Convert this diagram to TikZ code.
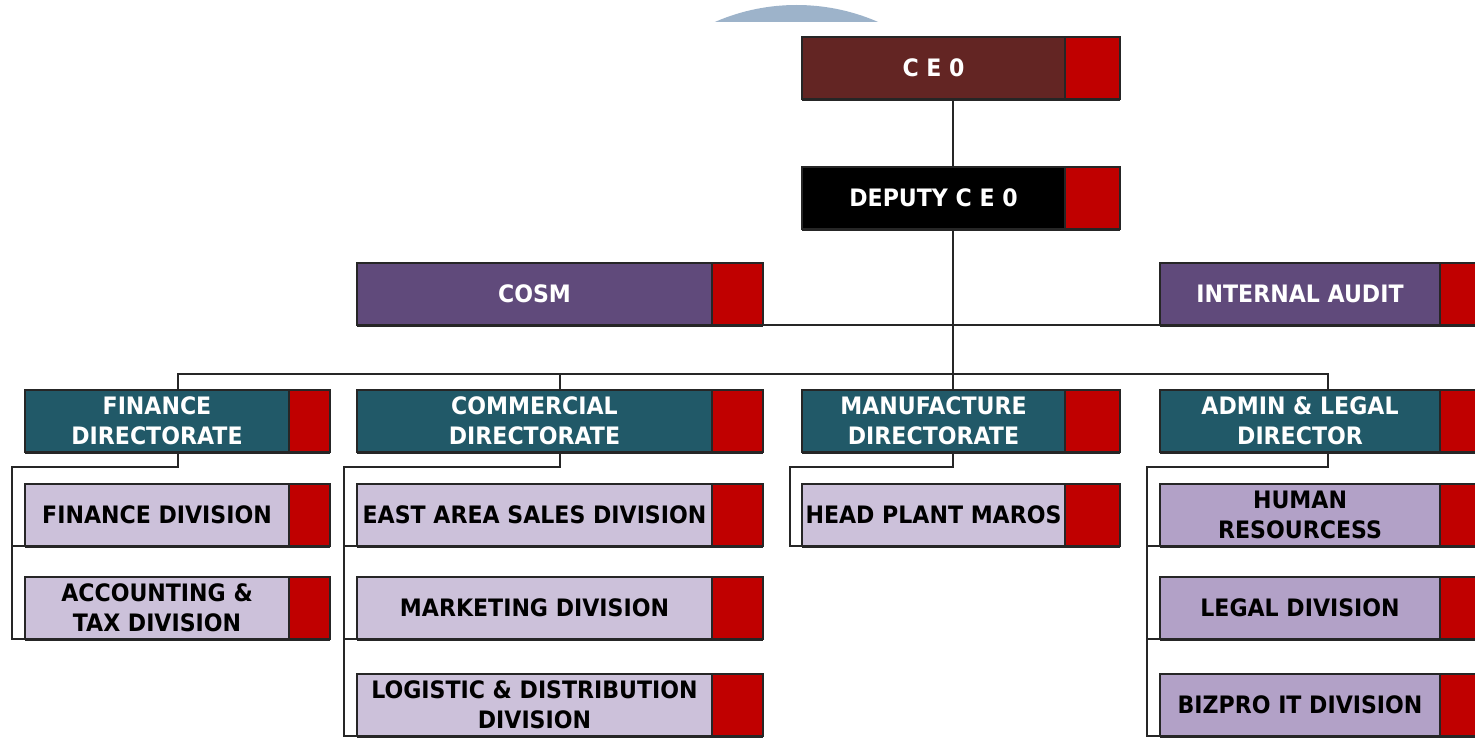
\documentclass[tikz,border=0pt]{standalone}
\usepackage{fontspec}
\setsansfont{DejaVu Sans}[FakeStretch=0.92]
\usetikzlibrary{positioning,calc}

\definecolor{ceobrown}{HTML}{632523}
\definecolor{staffpurple}{HTML}{604A7B}
\definecolor{dirteal}{HTML}{215968}
\definecolor{divlilac}{HTML}{CCC1DA}
\definecolor{admlilac}{HTML}{B2A1C7}
\definecolor{flagred}{HTML}{C00000}
\definecolor{arcblue}{HTML}{9DB3CA}

\tikzset{
	unit/.style={draw=black!85, line width=1pt, inner sep=0pt, outer sep=0pt,
		minimum height=31pt, anchor=north west, align=center,
		font=\sffamily\bfseries\fontsize{12}{15}\selectfont},
	flag/.style={draw=black!85, line width=1pt, fill=flagred, inner sep=0pt,
		outer sep=0pt, minimum height=31pt, minimum width=#1},
	link/.style={draw=black!85, line width=1pt},
	dark/.style={fill=#1, text=white},
	light/.style={fill=#1, text=black}
}

\begin{document}
\begin{tikzpicture}[x=0.5pt, y=-0.5pt]
	\clip (0,0) rectangle (1475,738);
	\fill[white] (0,0) rectangle (1475,738);
	\begin{scope}
		\clip (0,0) rectangle (1475,22);
		\fill[arcblue] (796.5,209) circle (204);
	\end{scope}

	% top
	\node[unit, dark=ceobrown, minimum width=131.5pt] (ceo) at (802,37) {C E 0};
	\node[flag=27.5pt, right=0pt of ceo] (ceo-r) {};
	\node[unit, dark=black, minimum width=131.5pt] (dep) at (802,167) {DEPUTY C E 0};
	\node[flag=27.5pt, right=0pt of dep] (dep-r) {};
	\node[unit, dark=staffpurple, minimum width=177.5pt] (cosm) at (357,263) {COSM};
	\node[flag=25.5pt, right=0pt of cosm] (cosm-r) {};
	\node[unit, dark=staffpurple, minimum width=140pt] (aud) at (1160,263) {INTERNAL AUDIT};
	\node[flag=28pt, right=0pt of aud] (aud-r) {};

	% directorates
	\node[unit, dark=dirteal, minimum width=132pt] (fin) at (25,390) {FINANCE\\DIRECTORATE};
	\node[flag=20.5pt, right=0pt of fin] (fin-r) {};
	\node[unit, dark=dirteal, minimum width=177.5pt] (com) at (357,390) {COMMERCIAL\\DIRECTORATE};
	\node[flag=25.5pt, right=0pt of com] (com-r) {};
	\node[unit, dark=dirteal, minimum width=131.5pt] (man) at (802,390) {MANUFACTURE\\DIRECTORATE};
	\node[flag=27.5pt, right=0pt of man] (man-r) {};
	\node[unit, dark=dirteal, minimum width=140pt] (adm) at (1160,390) {ADMIN \& LEGAL\\DIRECTOR};
	\node[flag=28pt, right=0pt of adm] (adm-r) {};

	% divisions
	\node[unit, light=divlilac, minimum width=132pt] (fdiv1) at (25,484) {FINANCE DIVISION};
	\node[flag=20.5pt, right=0pt of fdiv1] (fdiv1-r) {};
	\node[unit, light=divlilac, minimum width=132pt] (fdiv2) at (25,577) {ACCOUNTING \&\\TAX DIVISION};
	\node[flag=20.5pt, right=0pt of fdiv2] (fdiv2-r) {};

	\node[unit, light=divlilac, minimum width=177.5pt] (cdiv1) at (357,484) {EAST AREA SALES DIVISION};
	\node[flag=25.5pt, right=0pt of cdiv1] (cdiv1-r) {};
	\node[unit, light=divlilac, minimum width=177.5pt] (cdiv2) at (357,577) {MARKETING DIVISION};
	\node[flag=25.5pt, right=0pt of cdiv2] (cdiv2-r) {};
	\node[unit, light=divlilac, minimum width=177.5pt] (cdiv3) at (357,674) {LOGISTIC \& DISTRIBUTION\\DIVISION};
	\node[flag=25.5pt, right=0pt of cdiv3] (cdiv3-r) {};

	\node[unit, light=divlilac, minimum width=131.5pt] (mdiv1) at (802,484) {HEAD PLANT MAROS};
	\node[flag=27.5pt, right=0pt of mdiv1] (mdiv1-r) {};

	\node[unit, light=admlilac, minimum width=140pt] (adiv1) at (1160,484) {HUMAN\\RESOURCESS};
	\node[flag=28pt, right=0pt of adiv1] (adiv1-r) {};
	\node[unit, light=admlilac, minimum width=140pt] (adiv2) at (1160,577) {LEGAL DIVISION};
	\node[flag=28pt, right=0pt of adiv2] (adiv2-r) {};
	\node[unit, light=admlilac, minimum width=140pt] (adiv3) at (1160,674) {BIZPRO IT DIVISION};
	\node[flag=28pt, right=0pt of adiv3] (adiv3-r) {};

	% heavy bottom edges
	\foreach \n in {ceo,dep,cosm,aud,fin,com,man,adm,fdiv1,fdiv2,cdiv1,cdiv2,cdiv3,mdiv1,adiv1,adiv2,adiv3}
	\draw[line width=1.5pt, black!85] ([yshift=-0.4pt]\n.south west) -- ([yshift=-0.4pt]\n-r.south east);

	% lines
	\coordinate (spine) at (953,0);
	\coordinate (fin-c) at ($(fin.south west)!.5!(fin-r.south east)$);
	\coordinate (com-c) at ($(com.south west)!.5!(com-r.south east)$);
	\coordinate (adm-c) at ($(adm.south west)!.5!(adm-r.south east)$);

	\draw[link] (spine |- ceo.south) -- (spine |- dep.north);
	\draw[link] (spine |- dep.south) -- (spine |- man.north);
	\draw[link] (cosm-r.south east) -- (aud.south west);
	\draw[link] (fin-c |- fin.north) -- ++(0,-16) -| (adm-c |- adm.north);
	\draw[link] (com-c |- com.north) -- ++(0,-16);

	\draw[link] (fin-c) -- ++(0,15) -| ([xshift=-6.5pt]fdiv2.south west) -- (fdiv2.south west);
	\draw[link] ([xshift=-6.5pt]fdiv1.south west) -- (fdiv1.south west);

	\draw[link] (com-c) -- ++(0,15) -| ([xshift=-6.5pt]cdiv3.south west) -- (cdiv3.south west);
	\draw[link] ([xshift=-6.5pt]cdiv1.south west) -- (cdiv1.south west);
	\draw[link] ([xshift=-6.5pt]cdiv2.south west) -- (cdiv2.south west);

	\draw[link] (spine |- man.south) -- ++(0,15) -| ([xshift=-6pt]mdiv1.south west) -- (mdiv1.south west);

	\draw[link] (adm-c) -- ++(0,15) -| ([xshift=-6.5pt]adiv3.south west) -- (adiv3.south west);
	\draw[link] ([xshift=-6.5pt]adiv1.south west) -- (adiv1.south west);
	\draw[link] ([xshift=-6.5pt]adiv2.south west) -- (adiv2.south west);
\end{tikzpicture}
\end{document}
